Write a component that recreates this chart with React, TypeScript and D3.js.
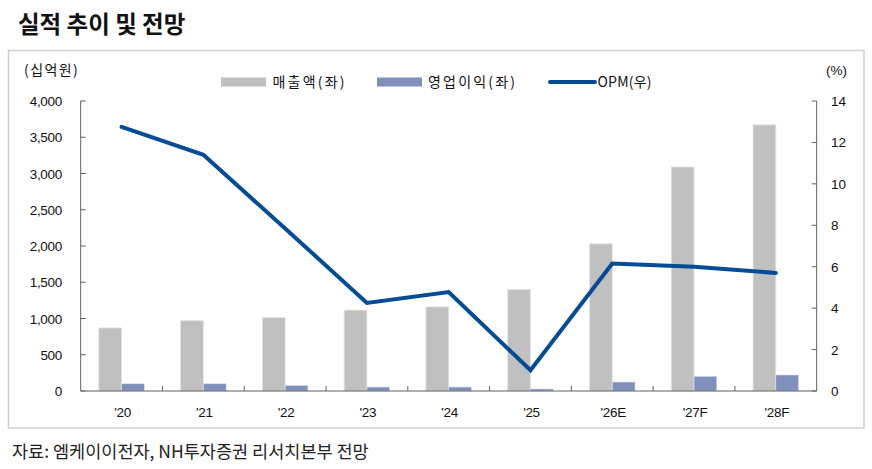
import React from "react";
import * as d3 from "d3";

const categories = ["'20", "'21", "'22", "'23", "'24", "'25", "'26E", "'27F", "'28F"];
const revenue = [870, 970, 1015, 1115, 1160, 1400, 2030, 3090, 3670];
const operatingProfit = [100, 100, 78, 55, 55, 28, 124, 203, 221];
const opm = [12.75, 11.4, 7.85, 4.25, 4.78, 1.0, 6.15, 6.0, 5.7];
const leftTicks = [0, 500, 1000, 1500, 2000, 2500, 3000, 3500, 4000];
const rightTicks = [0, 2, 4, 6, 8, 10, 12, 14];
const seriesNames = ["매출액(좌)", "영업이익(좌)", "OPM(우)"];

const W = 872;
const H = 469;
const L = 80.7;
const R = 816.7;
const T = 101;
const B = 391;

const GRAY = "#c0c0c0";
const BLUE = "#7f90bd";
const LINE = "#004c97";
const AXIS = "#606060";
const FONT = "'Liberation Sans', Arial, 'Noto Sans CJK KR', sans-serif";
const KFONT = "'Noto Sans CJK KR', 'Liberation Sans', sans-serif";

export default function App() {
  const x = d3.scaleBand<string>().domain(categories).range([L, R]).paddingInner(0.443).paddingOuter(0.2215);
  const x1 = d3.scaleBand<string>().domain(["rev", "op"]).range([0, x.bandwidth()]).padding(0);
  const yL = d3.scaleLinear().domain([0, 4000]).range([B, T]);
  const yR = d3.scaleLinear().domain([0, 14]).range([B, T]);
  const step = x.step();

  const line = d3
    .line<number>()
    .x((_, i) => (x(categories[i]) as number) + x.bandwidth() / 2)
    .y((d) => yR(d));

  const fmt = d3.format(",");

  return (
    <svg width={W} height={H} style={{ position: "absolute", left: 0, top: 0, background: "#fff" }}>
      <rect x={0} y={0} width={W} height={H} fill="#fff" />
      {/* title */}
      <text x={18} y={32.5} fontFamily={KFONT} fontWeight={700} fontSize={23.5} fill="#111">
        실적 추이 및 전망
      </text>
      {/* frame */}
      <rect x={8.5} y={50.5} width={855.5} height={377.5} fill="none" stroke="#cfcfcf" strokeWidth={1.5} />

      {/* unit labels */}
      <text x={24} y={75} fontFamily={KFONT} fontSize={14} letterSpacing={1.4} fill="#111">
        (십억원)
      </text>
      <text x={826} y={75} fontFamily={FONT} fontSize={13.5} fill="#111">
        (%)
      </text>

      {/* legend */}
      <g fontFamily={KFONT} fontSize={14} fill="#111">
        <rect x={221} y={77.5} width={45} height={9} fill={GRAY} />
        <text x={272.5} y={87} letterSpacing={2.2}>{seriesNames[0]}</text>
        <rect x={377} y={77.5} width={45} height={9} fill={BLUE} />
        <text x={428} y={87} letterSpacing={2.2}>{seriesNames[1]}</text>
        <line x1={550} x2={595} y1={82} y2={82} stroke={LINE} strokeWidth={4} strokeLinecap="round" />
        <text x={597.5} y={87} letterSpacing={0.2}>{seriesNames[2]}</text>
      </g>

      {/* bars */}
      {categories.map((c, i) => (
        <g key={c}>
          <rect
            x={(x(c) as number) + (x1("rev") as number)}
            y={yL(revenue[i])}
            width={x1.bandwidth()}
            height={B - yL(revenue[i])}
            fill={GRAY}
            stroke="#e4e4e4"
            strokeWidth={0.8}
          />
          <rect
            x={(x(c) as number) + (x1("op") as number)}
            y={yL(operatingProfit[i])}
            width={x1.bandwidth()}
            height={B - yL(operatingProfit[i])}
            fill={BLUE}
            stroke="#dfe3ee"
            strokeWidth={0.6}
          />
        </g>
      ))}

      {/* axes */}
      <g stroke={AXIS} strokeWidth={1} fill="none">
        <line x1={L} x2={L} y1={T} y2={B} />
        <line x1={R} x2={R} y1={T} y2={B} />
        <line x1={L} x2={R} y1={B} y2={B} />
        {leftTicks.map((t) => (
          <line key={"lt" + t} x1={L} x2={L + 5} y1={yL(t)} y2={yL(t)} />
        ))}
        {rightTicks.map((t) => (
          <line key={"rt" + t} x1={R - 5} x2={R} y1={yR(t)} y2={yR(t)} />
        ))}
        {categories.slice(1).map((c, i) => (
          <line key={"ct" + c} x1={L + step * (i + 1)} x2={L + step * (i + 1)} y1={B} y2={B - 5} />
        ))}
      </g>

      {/* tick labels */}
      <g fontFamily={FONT} fontSize={13.5} fill="#111">
        {leftTicks.map((t) => (
          <text key={"ll" + t} x={62} y={yL(t) + 5} textAnchor="end" letterSpacing={-0.3}>
            {fmt(t)}
          </text>
        ))}
        {rightTicks.map((t) => (
          <text key={"rl" + t} x={831} y={yR(t) + 5} textAnchor="start">
            {t}
          </text>
        ))}
        {categories.map((c) => (
          <text
            key={"xl" + c}
            x={(x(c) as number) + x.bandwidth() / 2 + 1}
            y={417}
            textAnchor="middle"
            letterSpacing={-0.3}
          >
            {c}
          </text>
        ))}
      </g>

      {/* OPM line */}
      <path d={line(opm) ?? ""} fill="none" stroke={LINE} strokeWidth={4} strokeLinejoin="miter" strokeLinecap="round" />

      {/* source */}
      <text x={12} y={457.5} fontFamily={KFONT} fontSize={17.5} fill="#222">
        자료: 엠케이이전자, NH투자증권 리서치본부 전망
      </text>
    </svg>
  );
}
